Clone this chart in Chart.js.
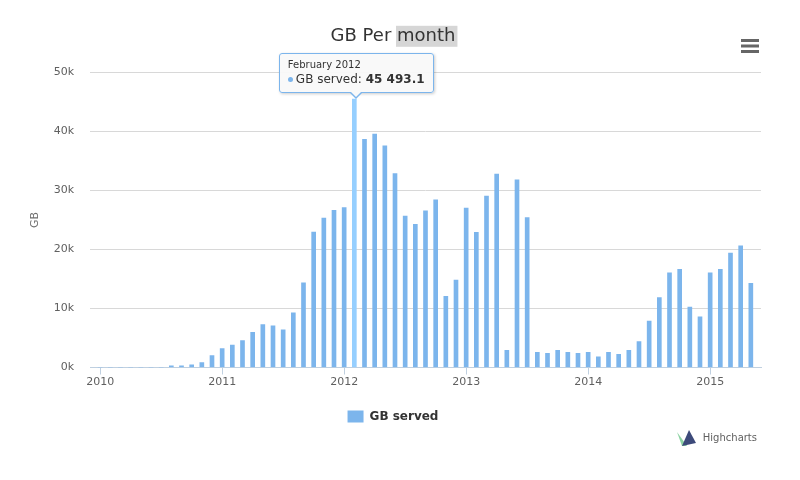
<!DOCTYPE html>
<html>
<head>
<meta charset="utf-8">
<title>GB Per month</title>
<script src="https://cdn.jsdelivr.net/npm/chart.js@4.4.1/dist/chart.umd.min.js"></script>
<style>
    body { margin: 0; background: #fff; }
    #wrap { position: relative; width: 800px; height: 480px; }
    #tip {
        position: absolute;
        pointer-events: none;
        opacity: 0;
        background: rgba(249, 249, 249, 0.95);
        border: 1px solid #7cb5ec;
        border-radius: 3px;
        padding: 4px 8px 5px 8px;
        font-family: "DejaVu Sans", sans-serif;
        color: #333;
        box-shadow: 1px 1px 3px rgba(0, 0, 0, 0.2);
        white-space: nowrap;
    }
    #tip:before, #tip:after { content: ""; position: absolute; left: 50%; border-style: solid; }
    #tip:before { bottom: -7px; margin-left: -7px; border-width: 7px 7px 0 7px; border-color: #7cb5ec transparent transparent transparent; }
    #tip:after { bottom: -5px; margin-left: -6px; border-width: 6px 6px 0 6px; border-color: #f9f9f9 transparent transparent transparent; }
    #tip .t-head { font-size: 10px; line-height: 13px; }
    #tip .t-body { font-size: 12px; line-height: 16px; }
    #tip .dot { display: inline-block; width: 5px; height: 5px; border-radius: 50%; background: #7cb5ec; vertical-align: middle; margin-right: 3px; }
</style>
</head>
<body>
<div id="wrap">
    <canvas id="gb-per-month" width="800" height="480"></canvas>
    <div id="tip"></div>
</div>
<script>
// Months, first one is January 2010
const monthNames = ["January", "February", "March", "April", "May", "June",
    "July", "August", "September", "October", "November", "December"];
const firstYear = 2010;

// GB served per month (Jan 2010 .. May 2015)
const gbServed = [
    0, 0, 0, 0, 0, 0, 0, 300, 300, 450, 850, 2000,                              // 2010
    3190, 3800, 4550, 5980, 7290, 7060, 6380, 9280, 14350, 22950, 25340, 26650, // 2011
    27100, 45493.1, 38670, 39580, 37590, 32860, 25680, 24260, 26550, 28420, 12080, 14820, // 2012
    27020, 22910, 29070, 32775, 2900, 31800, 25420, 2565, 2390, 2900, 2565, 2390, // 2013
    2565, 1820, 2565, 2220, 2900, 4390, 7870, 11860, 16070, 16640, 10260, 8610, // 2014
    16070, 16640, 19380, 20630, 14250                                            // 2015
];

// Axis ticks
const yearTickPositions = [0, 12, 24, 36, 48, 60];
const yearTickLabels = ["2010", "2011", "2012", "2013", "2014", "2015"];
const yTickValues = [0, 10000, 20000, 30000, 40000, 50000];
const yTickLabels = ["0k", "10k", "20k", "30k", "40k", "50k"];

// Month shown with the tooltip (February 2012)
const activeMonth = 25;

const SERIES_COLOR = "#7cb5ec";
const HOVER_COLOR = "#96cfff";

function monthLabel(i) {
    return monthNames[i % 12] + " " + (firstYear + Math.floor(i / 12));
}

// 45493.1 -> "45 493.1"
function formatNumber(v) {
    const parts = String(v).split(".");
    parts[0] = parts[0].replace(/\B(?=(\d{3})+(?!\d))/g, " ");
    return parts.join(".");
}

// Draw the selection highlight behind "month", the menu icon and the credits
const decorations = {
    id: "decorations",
    beforeDraw(chart) {
        const ctx = chart.ctx;
        const tb = chart.titleBlock;
        const t = chart.options.plugins.title;
        ctx.save();
        ctx.font = t.font.size + "px " + t.font.family;
        const full = ctx.measureText(t.text).width;
        const before = ctx.measureText("GB Per ").width;
        const word = ctx.measureText("month").width;
        const cx = (tb.left + tb.right) / 2;
        const cy = tb.top + t.padding.top + t.font.size * 0.6;
        ctx.fillStyle = "#d6d6d6";
        ctx.fillRect(cx - full / 2 + before - 1, cy - 11, word + 3, 21);
        ctx.restore();
    },
    afterDraw(chart) {
        const ctx = chart.ctx;
        const w = chart.width;
        ctx.save();
        // menu button
        ctx.fillStyle = "#666";
        for (let k = 0; k < 3; k++) {
            ctx.fillRect(w - 59, 39 + k * 5.5, 18, 3);
        }
        // credits
        ctx.font = "10px 'DejaVu Sans'";
        ctx.fillStyle = "#606060";
        ctx.textAlign = "right";
        ctx.textBaseline = "middle";
        ctx.fillText("Highcharts", w - 43, 438);
        ctx.fillStyle = "#8ed3a4";
        ctx.beginPath();
        ctx.moveTo(w - 123, 432); ctx.lineTo(w - 113, 446); ctx.lineTo(w - 118, 446); ctx.closePath();
        ctx.fill();
        ctx.fillStyle = "#3d4a7a";
        ctx.beginPath();
        ctx.moveTo(w - 118, 446); ctx.lineTo(w - 111, 430); ctx.lineTo(w - 104, 443); ctx.closePath();
        ctx.fill();
        ctx.restore();
    }
};

document.addEventListener("DOMContentLoaded", function() {
    Chart.defaults.font.family = "'DejaVu Sans', sans-serif";
    Chart.defaults.color = "#606060";

    const points = gbServed.map((v, i) => ({ x: i, y: v }));
    const tipEl = document.getElementById("tip");

    const chart = new Chart("gb-per-month", {
        type: "bar",
        data: {
            datasets: [{
                label: "GB served",
                data: points,
                backgroundColor: SERIES_COLOR,
                hoverBackgroundColor: HOVER_COLOR,
                borderWidth: 0,
                barThickness: 4
            }]
        },
        plugins: [decorations],
        options: {
            responsive: false,
            animation: false,
            events: [],
            layout: {
                padding: { left: 0, right: 14, top: 0, bottom: 47.5 }
            },
            plugins: {
                title: {
                    display: true,
                    text: "GB Per month",
                    color: "#333",
                    font: { size: 18, weight: "normal", family: "'DejaVu Sans'" },
                    padding: { top: 26, bottom: 25 }
                },
                legend: {
                    position: "bottom",
                    labels: {
                        color: "#333",
                        font: { size: 12, weight: "bold" },
                        boxWidth: 16,
                        boxHeight: 12,
                        padding: 10
                    }
                },
                tooltip: {
                    enabled: false,
                    external: function(context) {
                        const tooltip = context.tooltip;
                        if (tooltip.opacity === 0 || !tooltip.dataPoints) {
                            tipEl.style.opacity = 0;
                            return;
                        }
                        const dp = tooltip.dataPoints[0];
                        tipEl.innerHTML =
                            '<div class="t-head">' + monthLabel(dp.dataIndex) + '</div>' +
                            '<div class="t-body"><span class="dot"></span>' + dp.dataset.label +
                            ': <b>' + formatNumber(dp.raw.y) + '</b></div>';
                        const canvas = context.chart.canvas;
                        tipEl.style.opacity = 1;
                        tipEl.style.left = (canvas.offsetLeft + tooltip.caretX - tipEl.offsetWidth / 2 + 2) + "px";
                        tipEl.style.top = (canvas.offsetTop + tooltip.caretY - tipEl.offsetHeight - 6) + "px";
                    }
                }
            },
            scales: {
                x: {
                    type: "linear",
                    offset: false,
                    min: -1,
                    max: 65,
                    afterBuildTicks: scale => {
                        scale.ticks = yearTickPositions.map(v => ({ value: v }));
                    },
                    afterFit: scale => { scale.height = 33; },
                    ticks: {
                        autoSkip: false,
                        maxRotation: 0,
                        padding: 1,
                        color: "#606060",
                        font: { size: 11 },
                        callback: value => yearTickLabels[yearTickPositions.indexOf(value)]
                    },
                    grid: {
                        offset: false,
                        drawOnChartArea: false,
                        drawTicks: true,
                        tickLength: 7,
                        color: "#C0D0E0"
                    },
                    border: { color: "#C0D0E0", width: 1 }
                },
                y: {
                    min: 0,
                    max: 50000,
                    afterBuildTicks: scale => {
                        scale.ticks = yTickValues.map(v => ({ value: v }));
                    },
                    afterFit: scale => { scale.width = 90; },
                    ticks: {
                        padding: 16,
                        color: "#606060",
                        font: { size: 11 },
                        callback: value => yTickLabels[yTickValues.indexOf(value)]
                    },
                    grid: {
                        color: "#D8D8D8",
                        drawTicks: false
                    },
                    border: { display: false },
                    title: {
                        display: true,
                        text: "GB",
                        color: "#707070",
                        font: { size: 11 },
                        padding: { top: 29 }
                    }
                },
                // empty right-hand spacer so the chart area ends where the original does
                yRight: {
                    position: "right",
                    display: true,
                    ticks: { display: false },
                    grid: { display: false },
                    border: { display: false },
                    afterFit: scale => { scale.width = 25; }
                }
            }
        }
    });

    // Show the hovered state on February 2012, as in the picture
    const active = [{ datasetIndex: 0, index: activeMonth }];
    chart.setActiveElements(active);
    const bar = chart.getDatasetMeta(0).data[activeMonth];
    chart.tooltip.setActiveElements(active, { x: bar.x, y: bar.y });
    chart.update();
});
</script>
</body>
</html>
